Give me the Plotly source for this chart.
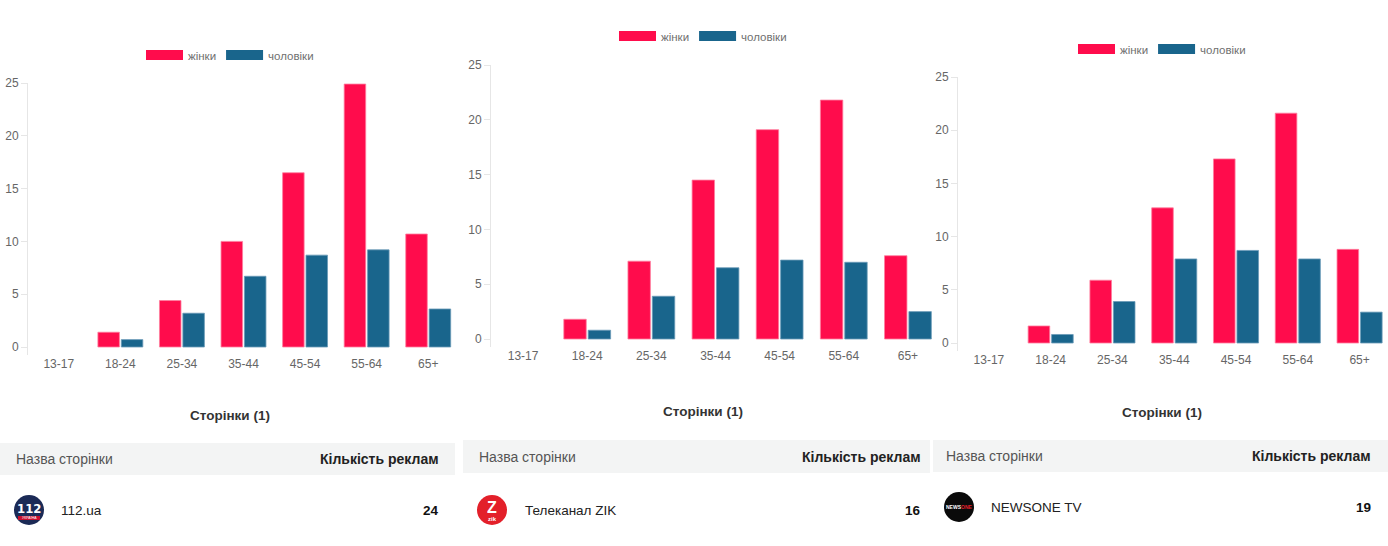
import plotly.graph_objects as go

W, H = 1388, 546

age_groups = ["13-17", "18-24", "25-34", "35-44", "45-54", "55-64", "65+"]

women_112 = [0, 1.4, 4.4, 10.0, 16.5, 24.9, 10.7]
men_112 = [0, 0.7, 3.2, 6.7, 8.7, 9.2, 3.6]

women_zik = [0, 1.8, 7.1, 14.5, 19.1, 21.8, 7.6]
men_zik = [0, 0.8, 3.9, 6.5, 7.2, 7.0, 2.5]

women_newsone = [0, 1.6, 5.9, 12.7, 17.3, 21.6, 8.8]
men_newsone = [0, 0.8, 3.9, 7.9, 8.7, 7.9, 2.9]

page_names = ["112.ua", "Телеканал ZIK", "NEWSONE TV"]
ad_counts = [24, 16, 19]

RED = "#ff0c4c"
BLUE = "#19658c"
FONT = "Helvetica Neue, Helvetica, Arial, Liberation Sans, sans-serif"


def fx(p):
    return p / W


def fy(p):
    return 1 - p / H


# pixel placement of each panel (axes box, legend, title, table)
panels = [
    dict(women=women_112, men=men_112, left=28, right=459, y0=347, y25=83, xmax=6.5,
         leg=(230, 55), title=(230, 415), head=(0, 455, 443, 475),
         text_l=14, text_r=441, row_y=510, logo_x=29, name_x=59,
         logo="112"),
    dict(women=women_zik, men=men_zik, left=491, right=940, y0=339, y25=65, xmax=6.5,
         leg=(703, 36), title=(703, 411), head=(463, 930, 440, 473),
         text_l=477, text_r=923, row_y=510, logo_x=492, name_x=523,
         logo="zik"),
    dict(women=women_newsone, men=men_newsone, left=958, right=1388, y0=343, y25=77, xmax=6.46,
         leg=(1162, 49), title=(1162, 412), head=(933, 1388, 440, 472),
         text_l=944, text_r=1373, row_y=507, logo_x=959, name_x=989,
         logo="newsone"),
]

fig = go.Figure()
shapes = []
annotations = []


def note(text, x, y, size, color, xanchor="center", family=None):
    f = dict(size=size, color=color)
    if family:
        f["family"] = family
    annotations.append(dict(text=text, x=x, y=y, xref="paper", yref="paper",
                            xanchor=xanchor, yanchor="middle", showarrow=False, font=f))


for i, p in enumerate(panels):
    n = "" if i == 0 else str(i + 1)
    leg = "legend" + n
    for name, vals, col, edge in [("жінки", p["women"], RED, "#ff7d9e"),
                                  ("чоловіки", p["men"], BLUE, "#6b9bb8")]:
        fig.add_trace(go.Bar(
            x=age_groups, y=vals, name=name, xaxis="x" + n, yaxis="y" + n,
            marker=dict(color=col, line=dict(color=edge, width=[0 if v == 0 else 0.8 for v in vals])),
            showlegend=False, legend=leg))
    # legend swatches like chart.js boxes
    for name, col in [("жінки", RED), ("чоловіки", BLUE)]:
        fig.add_trace(go.Scatter(
            x=[None], y=[None], mode="lines", name=name, xaxis="x" + n, yaxis="y" + n,
            line=dict(color=col, width=11), legend=leg, hoverinfo="skip"))

    ppu = (p["y0"] - p["y25"]) / 25
    fig.update_layout({
        "xaxis" + n: dict(
            domain=[fx(p["left"]), fx(p["right"])], range=[-0.5, p["xmax"]],
            anchor="y" + n, showline=False, showgrid=False, ticks="", automargin=False,
            tickfont=dict(size=12, color="#666666"), fixedrange=True),
        "yaxis" + n: dict(
            domain=[fy(p["y0"] + 8), fy(p["y25"])], range=[-8 / ppu, 25],
            anchor="x" + n, showline=True, linecolor="#e6e6e6", linewidth=1,
            showgrid=False, zeroline=False, ticks="outside", ticklen=6, automargin=False,
            tickcolor="#e6e6e6", tickvals=[0, 5, 10, 15, 20, 25],
            tickfont=dict(size=12, color="#666666"), fixedrange=True),
        leg: dict(
            orientation="h", x=fx(p["leg"][0]), y=fy(p["leg"][1]),
            xanchor="center", yanchor="middle", bgcolor="rgba(0,0,0,0)",
            font=dict(size=11.5, color="#707070", family=FONT),
            itemwidth=37, tracegroupgap=0),
    })

    note("<b>Сторінки (1)</b>", fx(p["title"][0]), fy(p["title"][1]), 13.5, "#333333")

    hl, hr, ht, hb = p["head"]
    shapes.append(dict(type="rect", xref="paper", yref="paper",
                       x0=fx(hl), x1=fx(hr), y0=fy(hb), y1=fy(ht),
                       fillcolor="#f3f4f4", line=dict(width=0), layer="below"))
    hy = fy((ht + hb) / 2)
    note("Назва сторінки", fx(p["text_l"]), hy, 14, "#555555", "left")
    note("<b>Кількість реклам</b>", fx(p["text_r"]), hy, 14, "#222222", "right")

    ry = fy(p["row_y"])
    note(page_names[i], fx(p["name_x"]), ry, 13.5, "#222222", "left")
    note("<b>%d</b>" % ad_counts[i], fx(p["text_r"]), ry, 13.5, "#111111", "right")

    # round page logos
    logo_col = {"112": "#1b2a56", "zik": "#e3202a", "newsone": "#0a0a0a"}[p["logo"]]
    shapes.append(dict(type="circle", xref="paper", yref="paper",
                       xsizemode="pixel", ysizemode="pixel",
                       xanchor=fx(p["logo_x"]), yanchor=ry,
                       x0=-15, x1=15, y0=-15, y1=15,
                       fillcolor=logo_col, line=dict(width=0)))
    lx = fx(p["logo_x"])
    if p["logo"] == "112":
        note("<b>112</b>", lx, ry + 2 / H, 13, "white", family="DejaVu Sans Condensed, Arial")
        shapes.append(dict(type="rect", xref="paper", yref="paper",
                           xsizemode="pixel", ysizemode="pixel",
                           xanchor=lx, yanchor=ry, x0=-11, x1=11, y0=-10, y1=-6,
                           fillcolor="#c8102e", line=dict(width=0)))
        note("УКРАЇНА", lx, ry - 8 / H, 3.5, "white")
    elif p["logo"] == "zik":
        note("<b>Z</b>", lx, ry + 3 / H, 16, "white")
        note("<b>zik</b>", lx, ry - 9 / H, 6, "white")
    else:
        note("<b>NEWS<span style='color:#e3202a'>ONE</span></b>", lx, ry, 5, "white")

fig.update_layout(
    width=W, height=H,
    margin=dict(l=0, r=0, t=0, b=0, autoexpand=False),
    paper_bgcolor="white", plot_bgcolor="white",
    font=dict(family=FONT, size=12, color="#666666"),
    barmode="group", bargap=0.24, bargroupgap=0.08,
    shapes=shapes, annotations=annotations,
)

fig.write_html("out.html", config={"displayModeBar": False},
               post_script="document.body.style.margin='0';document.body.style.overflow='hidden';")
